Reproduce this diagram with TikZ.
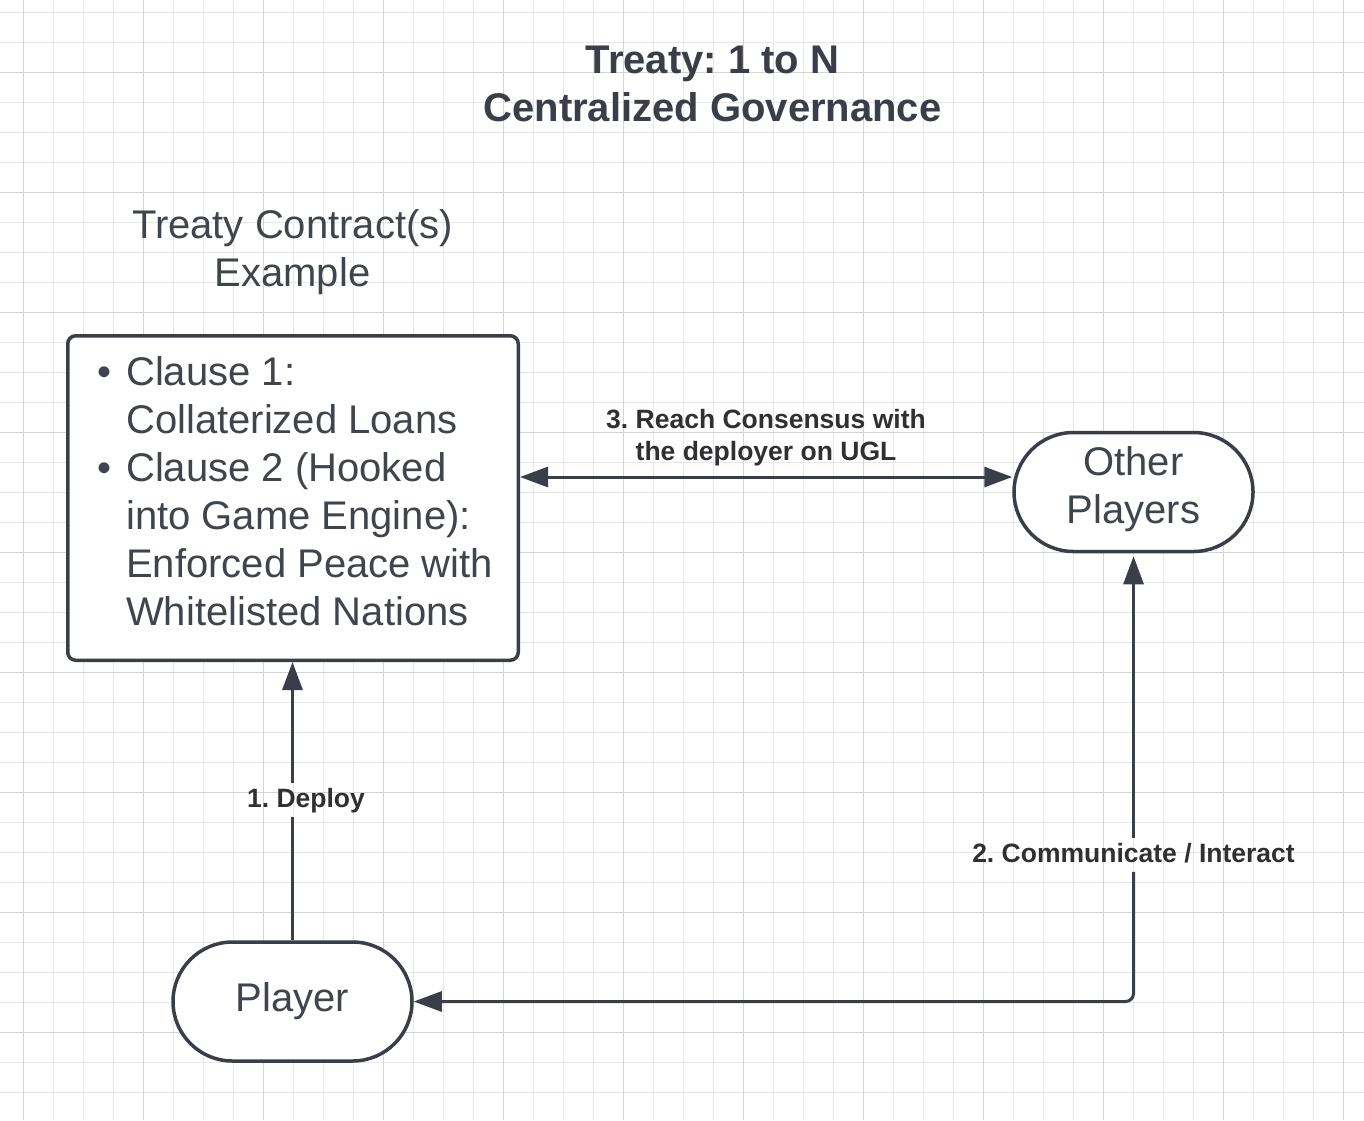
\documentclass[tikz,border=0pt]{standalone}
\usepackage{fontspec}
\setmainfont{Liberation Sans}
\usetikzlibrary{arrows.meta}
\frenchspacing
\definecolor{lc}{RGB}{58,62,72}
\definecolor{txt}{RGB}{64,68,77}
\definecolor{ttl}{RGB}{58,62,72}
\definecolor{lbl}{RGB}{48,48,50}
\definecolor{gridminor}{RGB}{231,231,231}
\definecolor{gridmajor}{RGB}{212,212,212}
\tikzset{
  shapebox/.style={draw=lc, line width=3.5pt, fill=white, inner sep=0pt},
  stadium/.style={shapebox, rounded corners=59.5pt, minimum width=239pt, minimum height=119pt,
     text=txt, font=\fontsize{40}{48}\selectfont},
  conn/.style={draw=lc, line width=3pt},
  tipend/.style={-{Triangle[length=28pt,width=20pt]}},
  tipboth/.style={{Triangle[length=28pt,width=20pt]}-{Triangle[length=28pt,width=20pt]}},
  bigtext/.style={text=txt, font=\fontsize{40}{48}\selectfont, inner sep=0pt},
  lbltext/.style={text=lbl, font=\fontsize{26.5}{32}\selectfont\bfseries},
  gapped/.style={lbltext, text height=19.5pt, text depth=5.6pt, inner xsep=2pt, inner ysep=4pt},
}
\begin{document}
\begin{tikzpicture}[x=1pt,y=-1pt]
\useasboundingbox (0,0) rectangle (1364,1120);
\fill[white] (0,0) rectangle (1364,1120);
% grid
\foreach \x in {23,53,...,1363} \draw[gridminor, line width=1pt] (\x,0) -- (\x,1120);
\foreach \y in {12,42,...,1112} \draw[gridminor, line width=1pt] (0,\y) -- (1364,\y);
\foreach \x in {23,143,...,1343} \draw[gridmajor, line width=1pt] (\x,0) -- (\x,1120);
\foreach \y in {72,192,...,1032} \draw[gridmajor, line width=1pt] (0,\y) -- (1364,\y);

% title
\node (title) [anchor=base, inner sep=0pt, text=ttl, font=\fontsize{40}{48}\selectfont\bfseries] at (712.5,73)
  {\begin{tabular}[t]{@{}c@{}}Treaty: 1 to N\\Centralized Governance\end{tabular}};

% heading
\node (heading) [bigtext, anchor=base] at (292.5,238)
  {\begin{tabular}[t]{@{}c@{}}Treaty Contract(s)\\Example\end{tabular}};

% contract box
\node (contract) [shapebox, rounded corners=8pt, minimum width=450.5pt, minimum height=324.5pt] at (293,498) {};
\node (clauses) [bigtext, anchor=base west] at (97,385)
  {\begin{tabular}[t]{@{}p{29pt}@{}l@{}}
   •&Clause 1:\\
    &Collaterized Loans\\
   •&Clause 2 (Hooked\\
    &into Game Engine):\\
    &Enforced Peace with\\
    &Whitelisted Nations
  \end{tabular}};

% players
\node (player) [stadium] at (292.5,1001.5) {Player};
\node (other) [stadium, text height=30pt, text depth=64pt] at (1133.5,492)
  {\begin{tabular}[t]{@{}c@{}}Other\\Players\end{tabular}};

% labels
\node (lbl1) [gapped, anchor=base] at (306,807) {1. Deploy};
\node (lbl2) [gapped, anchor=base] at (1133.5,862) {2. Communicate / Interact};
\node (lbl3) [lbltext, anchor=base, inner sep=0pt] at (766,428)
  {\begin{tabular}[t]{@{}c@{}}3. Reach Consensus with\\the deployer on UGL\end{tabular}};

% connectors
\draw[conn] (player.north) -- (player.north |- lbl1.south);
\draw[conn, tipend] (player.north |- lbl1.north) -- (contract.south -| player.north);
\draw[conn, tipend, shorten >=3pt] (lbl2.north) -- (other.south);
\draw[conn, tipend, rounded corners=8pt] (lbl2.south) |- (player.east);
\draw[conn, tipboth] (contract.east |- 0,477) -- (other.west |- 0,477);
\end{tikzpicture}
\end{document}
